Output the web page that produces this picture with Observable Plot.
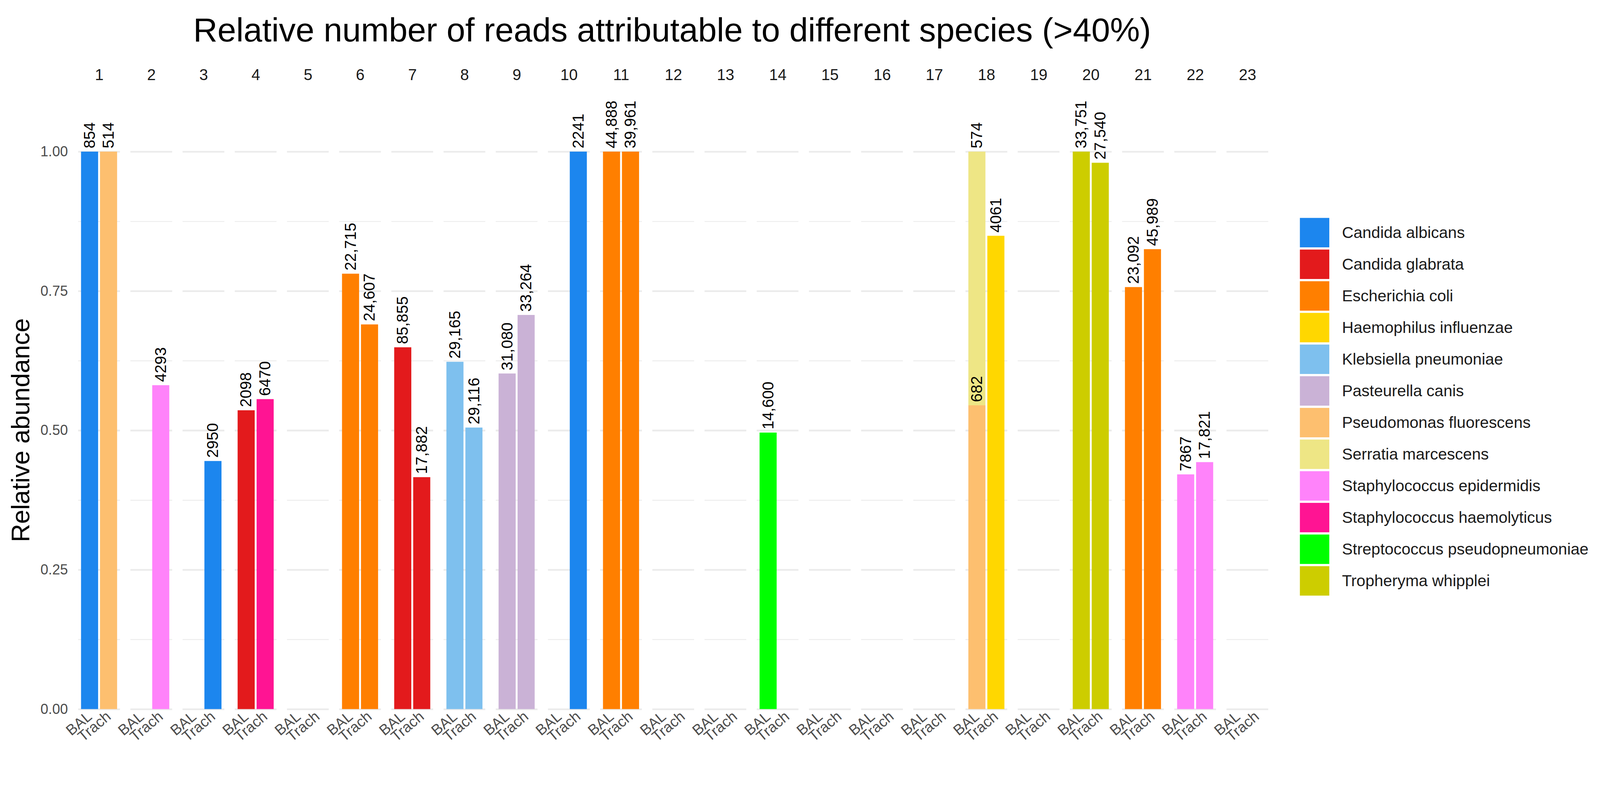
<!DOCTYPE html>
<html>
<head>
<meta charset="utf-8">
<script src="https://cdn.jsdelivr.net/npm/d3@7"></script>
<script src="https://cdn.jsdelivr.net/npm/@observablehq/plot@0.6"></script>
<style>
  html, body { margin: 0; padding: 0; background: #fff; overflow: hidden; }
  #page { position: absolute; left: 0; top: 0; width: 4297px; height: 2037px; overflow: hidden; background: #fff;
          font-family: "Liberation Sans", Arial, sans-serif; transform-origin: 0 0; }
  #title { position: absolute; left: 519px; top: 35px; font-size: 90px; line-height: 1; white-space: nowrap; color: #000; }
  #chart { position: absolute; left: 0; top: 150px; }
  #legend { position: absolute; left: 3491px; top: 585px; width: 806px; }
  #legend .leg-swatches { font-family: "Liberation Sans", Arial, sans-serif !important; font-size: 43px !important; color: #1A1A1A !important; margin-left: 0 !important; width: 806px !important; }
  #legend .leg-swatch { margin-bottom: 5px !important; padding-bottom: 1px !important; }
  #legend .leg-swatch > svg { margin-right: 34px !important; flex-shrink: 0; }
  #legend .leg-swatch-label { overflow: visible !important; text-overflow: clip !important; white-space: nowrap !important; }
</style>
</head>
<body>
<div id="page">
  <div id="title">Relative number of reads attributable to different species (&gt;40%)</div>
  <div id="chart"></div>
  <div id="legend"></div>
</div>
<script>
// ---- categories ----
const patients = ["1","2","3","4","5","6","7","8","9","10","11","12","13","14","15","16","17","18","19","20","21","22","23"];
const samples = ["BAL", "Trach"];
const species = [
  "Candida albicans", "Candida glabrata", "Escherichia coli", "Haemophilus influenzae",
  "Klebsiella pneumoniae", "Pasteurella canis", "Pseudomonas fluorescens", "Serratia marcescens",
  "Staphylococcus epidermidis", "Staphylococcus haemolyticus", "Streptococcus pseudopneumoniae", "Tropheryma whipplei"
];
const speciesColors = [
  "#1C86EE", "#E31A1C", "#FF7F00", "#FFD700",
  "#7EC0EE", "#CAB2D6", "#FDBF6F", "#EEE685",
  "#FF83FA", "#FF1493", "#00FF00", "#CDCD00"
];
const yTicks = [0, 0.25, 0.5, 0.75, 1];
const yMinorTicks = [0.125, 0.375, 0.625, 0.875];

// ---- series (one entry per bar segment) ----
const barPatient = ["1","1","2","3","4","4","6","6","7","7","8","8","9","9","10","11","11","14","18","18","18","20","20","21","21","22","22"];
const barSample  = ["BAL","Trach","Trach","Trach","BAL","Trach","BAL","Trach","BAL","Trach","BAL","Trach","BAL","Trach","Trach","BAL","Trach","BAL","BAL","BAL","Trach","BAL","Trach","BAL","Trach","BAL","Trach"];
const barSpecies = [
  "Candida albicans","Pseudomonas fluorescens","Staphylococcus epidermidis","Candida albicans",
  "Candida glabrata","Staphylococcus haemolyticus","Escherichia coli","Escherichia coli",
  "Candida glabrata","Candida glabrata","Klebsiella pneumoniae","Klebsiella pneumoniae",
  "Pasteurella canis","Pasteurella canis","Candida albicans","Escherichia coli","Escherichia coli",
  "Streptococcus pseudopneumoniae","Pseudomonas fluorescens","Serratia marcescens","Haemophilus influenzae",
  "Tropheryma whipplei","Tropheryma whipplei","Escherichia coli","Escherichia coli",
  "Staphylococcus epidermidis","Staphylococcus epidermidis"
];
const barAbundance = [1.0, 1.0, 0.581, 0.445, 0.536, 0.556, 0.781, 0.690, 0.649, 0.416, 0.623, 0.505, 0.602, 0.707, 1.0, 1.0, 1.0, 0.496, 0.545, 0.455, 0.849, 1.0, 0.980, 0.757, 0.825, 0.421, 0.443];
const barReads = [854, 514, 4293, 2950, 2098, 6470, 22715, 24607, 85855, 17882, 29165, 29116, 31080, 33264, 2241, 44888, 39961, 14600, 682, 574, 4061, 33751, 27540, 23092, 45989, 7867, 17821];

// ---- tables built from the arrays ----
const bars = barPatient.map((p, i) => ({
  patient: p, sample: barSample[i], species: barSpecies[i],
  abundance: barAbundance[i], reads: barReads[i]
}));
const cells = patients.flatMap(p => samples.map(s => ({patient: p, sample: s})));
const fmtReads = n => n >= 10000 ? d3.format(",")(n) : String(n);

const font = "'Liberation Sans', Arial, sans-serif";

// fit the 4297x2037 design box into the actual viewport
const page = document.getElementById("page");
const fitScale = Math.min(window.innerWidth / 4297, window.innerHeight / 2037);
page.style.transform = `scale(${fitScale})`;

const chart = Plot.plot({
  width: 3440,
  height: 1887,
  marginTop: 257,
  marginBottom: 133.4,
  marginLeft: 210,
  marginRight: 34,
  style: {fontFamily: font, background: "white", overflow: "visible"},
  fx: {domain: patients, paddingInner: 0.2, paddingOuter: 0, round: false},
  x: {domain: samples, paddingInner: 0.1, paddingOuter: 0.15, round: false},
  y: {domain: [0, 1]},
  color: {domain: species, range: speciesColors},
  marks: [
    Plot.gridY(yMinorTicks, {stroke: "#EBEBEB", strokeWidth: 2.3, strokeOpacity: 1}),
    Plot.gridY(yTicks, {stroke: "#EBEBEB", strokeWidth: 4.5, strokeOpacity: 1}),
    Plot.tickY(cells, {fx: "patient", x: "sample", y: 0, strokeOpacity: 0}),
    Plot.barY(bars, {fx: "patient", x: "sample", y: "abundance", fill: "species"}),
    Plot.text(bars, Plot.stackY2({
      fx: "patient", x: "sample", y: "abundance",
      text: d => fmtReads(d.reads),
      rotate: -90, textAnchor: "start", lineAnchor: "middle",
      dy: -9, fontSize: 42, fill: "#000"
    })),
    Plot.axisFx({anchor: "top", tickSize: 0, tickPadding: 192, fontSize: 42, color: "#1A1A1A", label: null}),
    Plot.axisX({anchor: "bottom", tickRotate: -40, tickSize: 0, tickPadding: 14, fontSize: 40, color: "#4D4D4D", label: null}),
    Plot.axisY({ticks: yTicks, tickFormat: d3.format(".2f"), tickSize: 0, tickPadding: 28, fontSize: 38, color: "#4D4D4D", label: null})
  ]
});

// y-axis title
d3.select(chart).append("text")
  .attr("transform", "translate(79,1005) rotate(-90)")
  .attr("text-anchor", "middle")
  .attr("font-family", font)
  .attr("font-size", 68)
  .attr("fill", "#000")
  .text("Relative abundance");

document.getElementById("chart").appendChild(chart);

const legend = Plot.legend({
  color: {domain: species, range: speciesColors},
  columns: 1,
  swatchSize: 79,
  className: "leg"
});
document.getElementById("legend").appendChild(legend);
</script>
</body>
</html>
